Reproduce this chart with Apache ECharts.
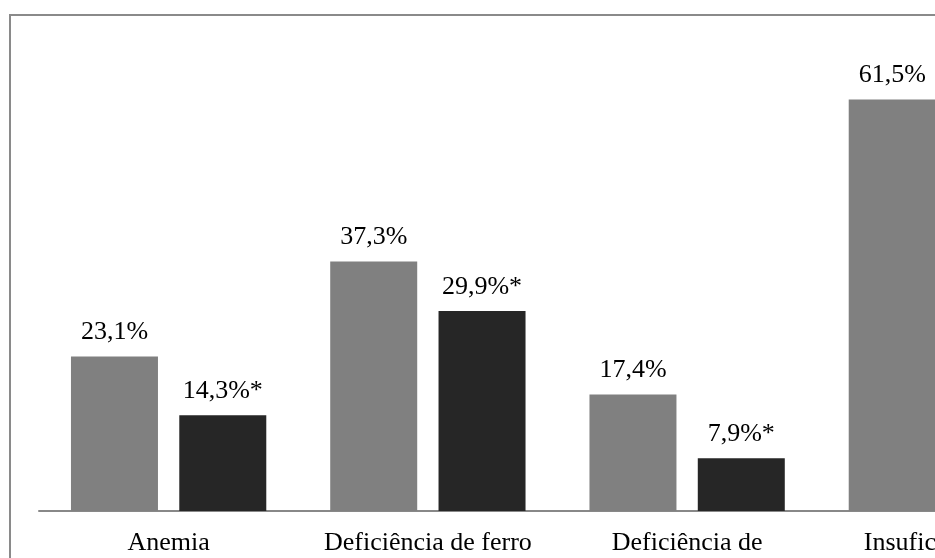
<!DOCTYPE html>
<html>
<head>
<meta charset="utf-8">
<script src="https://cdn.jsdelivr.net/npm/echarts@6/dist/echarts.min.js"></script>
<style>
  html, body { margin: 0; padding: 0; width: 935px; height: 558px; overflow: hidden; background: #ffffff; }
  #frame { position: absolute; left: 9px; top: 14px; width: 1300px; height: 800px;
           border-left: 2px solid #8a8a8a; border-top: 2px solid #8a8a8a; box-sizing: border-box; }
  #chart { position: absolute; left: 0; top: 0; width: 1120px; height: 620px; }
</style>
</head>
<body>
<div id="frame"></div>
<div id="chart"></div>
<script>
// Categories (only the first lines of the labels are visible in the cropped reference)
const categories = ['Anemia', 'Deficiência de ferro', 'Deficiência de', 'Insuficiência de'];
// Gray series (first group) values, %
const seriesA = [23.1, 37.3, 17.4, 61.5];
// Dark series (second group) values, % — the fourth is outside the visible area
const seriesB = [14.3, 29.9, 7.9, null];
// Marker appended to the dark-series labels
const markB = '*';

const fmt = v => v.toFixed(1).replace('.', ',') + '%';

const chart = echarts.init(document.getElementById('chart'), null, { renderer: 'canvas' });
const labelFont = { fontFamily: 'Liberation Serif', fontSize: 26, color: '#000000' };

chart.setOption({
  animation: false,
  backgroundColor: 'transparent',
  grid: { left: 39, top: 42.7, width: 1037, height: 468.3, containLabel: false },
  xAxis: {
    type: 'category',
    data: categories,
    axisLine: { show: true, lineStyle: { color: '#888888', width: 2 } },
    axisTick: { show: false },
    axisLabel: Object.assign({ margin: 19, interval: 0 }, labelFont),
    splitLine: { show: false }
  },
  yAxis: {
    type: 'value',
    min: 0,
    max: 70,
    show: false,
    splitLine: { show: false }
  },
  series: [
    {
      type: 'bar',
      data: seriesA,
      barWidth: 87,
      barGap: '24.5%',
      itemStyle: { color: '#808080' },
      label: Object.assign({
        show: true, position: 'top', distance: 11,
        formatter: p => fmt(p.value)
      }, labelFont)
    },
    {
      type: 'bar',
      data: seriesB,
      barWidth: 87,
      barGap: '24.5%',
      itemStyle: { color: '#262626' },
      label: Object.assign({
        show: true, position: 'top', distance: 11,
        formatter: p => (p.value == null ? '' : fmt(p.value) + markB)
      }, labelFont)
    }
  ]
});
</script>
</body>
</html>
